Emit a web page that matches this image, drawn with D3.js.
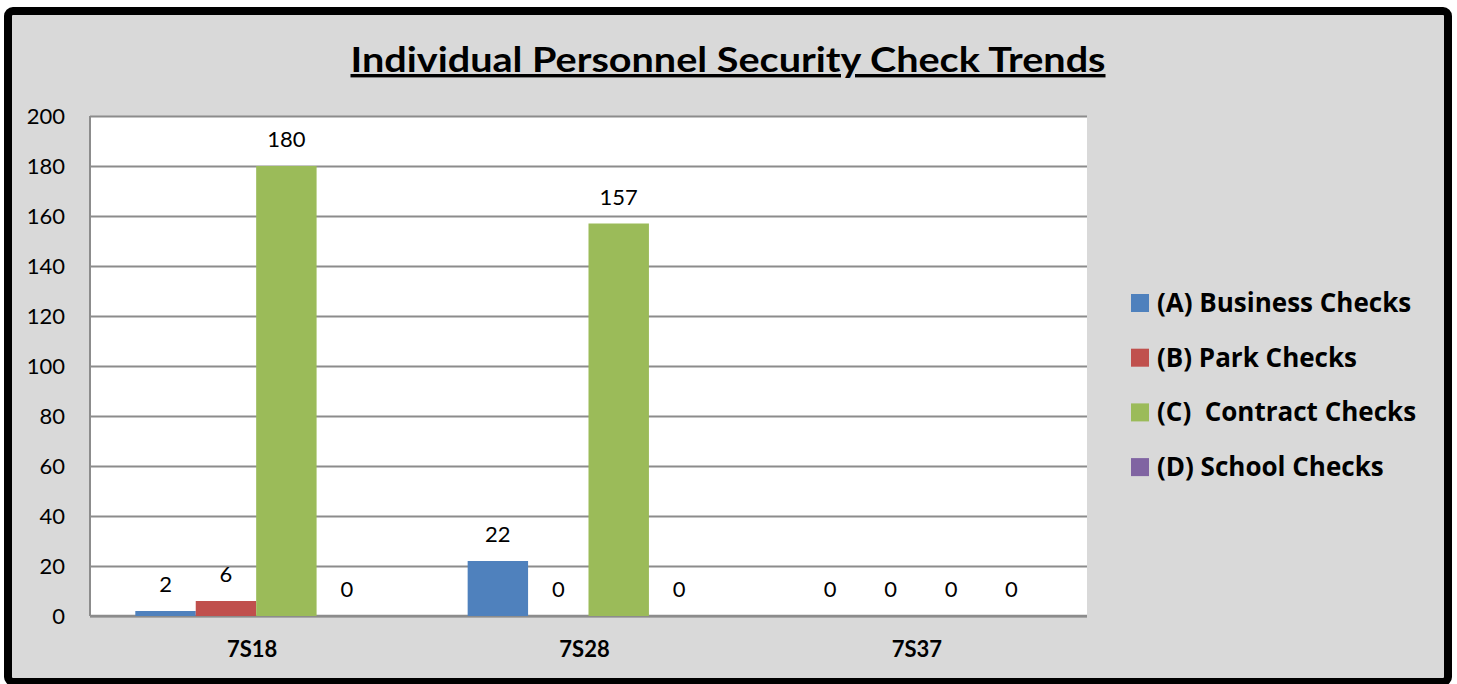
<!DOCTYPE html>
<html>
<head>
<meta charset="utf-8">
<script src="https://cdn.jsdelivr.net/npm/d3@7"></script>
<style>
  body { margin: 0; background: #fff; }
  svg { display: block; font-family: Lato, "Open Sans", sans-serif; }
</style>
</head>
<body>
<svg id="chart" width="1457" height="684"></svg>
<script>
// chart values
const categories = ['7S18', '7S28', '7S37'];
const seriesNames = ['(A) Business Checks', '(B) Park Checks', '(C)  Contract Checks', '(D) School Checks'];
const businessChecks = [2, 22, 0];
const parkChecks = [6, 0, 0];
const contractChecks = [180, 157, 0];
const schoolChecks = [0, 0, 0];
const colors = ['#4F81BD', '#C0504D', '#9BBB59', '#8064A2'];

const PLOT = { left: 90, right: 1087, top: 116, bottom: 616 };
const GRID = '#8c8c8c';
const LABEL_SIZE = 22;

const svg = d3.select('#chart');
const series = [businessChecks, parkChecks, contractChecks, schoolChecks];

// frame
svg.append('rect')
	.attr('x', 8).attr('y', 11)
	.attr('width', 1440).attr('height', 671)
	.attr('rx', 5)
	.attr('fill', '#D9D9D9')
	.attr('stroke', '#000')
	.attr('stroke-width', 8);

// title
svg.append('text')
	.attr('x', 728).attr('y', 72)
	.attr('text-anchor', 'middle')
	.attr('font-size', 34)
	.attr('font-weight', 'bold')
	.attr('textLength', 755)
	.attr('lengthAdjust', 'spacingAndGlyphs')
	.style('text-decoration', 'underline')
	.text('Individual Personnel Security Check Trends');

// scales
const x0 = d3.scaleBand()
	.domain(categories)
	.range([PLOT.left, PLOT.right]);
// 150% gap width: 4 bars + 1.5 bar of gap per group
const x1 = d3.scaleBand()
	.domain(d3.range(seriesNames.length))
	.range([0, x0.bandwidth()])
	.paddingInner(0)
	.paddingOuter(0.75);
const y = d3.scaleLinear().domain([0, 200]).range([PLOT.bottom, PLOT.top]);

// plot background
svg.append('rect')
	.attr('x', PLOT.left).attr('y', PLOT.top)
	.attr('width', PLOT.right - PLOT.left).attr('height', PLOT.bottom - PLOT.top)
	.attr('fill', '#fff');

// y axis with gridlines
const yAxis = svg.append('g')
	.attr('transform', `translate(${PLOT.left},0)`)
	.call(d3.axisLeft(y).ticks(10).tickSize(-(PLOT.right - PLOT.left)).tickPadding(25));
yAxis.select('.domain').remove();
yAxis.selectAll('.tick line').attr('stroke', GRID).attr('stroke-width', 2);
yAxis.selectAll('.tick text')
	.attr('font-family', 'Lato, "Open Sans", sans-serif')
	.attr('font-size', LABEL_SIZE)
	.attr('fill', '#000');

// axis lines
svg.append('line')
	.attr('x1', PLOT.left).attr('x2', PLOT.left)
	.attr('y1', PLOT.top).attr('y2', PLOT.bottom)
	.attr('stroke', GRID).attr('stroke-width', 2);
svg.append('line')
	.attr('x1', PLOT.left).attr('x2', PLOT.right)
	.attr('y1', PLOT.bottom).attr('y2', PLOT.bottom)
	.attr('stroke', GRID).attr('stroke-width', 2.5);

// bars
const rows = [];
categories.forEach((c, ci) => {
	series.forEach((s, si) => rows.push({ cat: c, idx: si, value: s[ci] }));
});

const groups = svg.append('g');
groups.selectAll('rect.bar')
	.data(rows)
	.enter()
	.append('rect')
	.attr('class', 'bar')
	.attr('x', d => x0(d.cat) + x1(d.idx))
	.attr('y', d => y(d.value))
	.attr('width', x1.bandwidth())
	.attr('height', d => y(0) - y(d.value))
	.attr('fill', d => colors[d.idx]);

groups.selectAll('text.val')
	.data(rows)
	.enter()
	.append('text')
	.attr('class', 'val')
	.attr('x', d => x0(d.cat) + x1(d.idx) + x1.bandwidth() / 2)
	.attr('y', d => y(d.value) - 19)
	.attr('text-anchor', 'middle')
	.attr('font-size', LABEL_SIZE)
	.text(d => d.value);

// category labels
svg.append('g')
	.selectAll('text')
	.data(categories)
	.enter()
	.append('text')
	.attr('x', d => x0(d) + x0.bandwidth() / 2 - 4)
	.attr('y', 657)
	.attr('text-anchor', 'middle')
	.attr('font-size', LABEL_SIZE)
	.attr('font-weight', 'bold')
	.text(d => d);

// legend
const legend = svg.append('g')
	.selectAll('g')
	.data(seriesNames)
	.enter()
	.append('g')
	.attr('transform', (d, i) => `translate(1131,${294 + i * 54.7})`);
legend.append('rect')
	.attr('width', 18).attr('height', 18)
	.attr('fill', (d, i) => colors[i]);
legend.append('text')
	.attr('x', 26).attr('y', 18)
	.attr('font-family', '"Open Sans", Lato, sans-serif')
	.attr('font-size', 26)
	.attr('font-weight', 'bold')
	.style('white-space', 'pre')
	.text(d => d);
</script>
</body>
</html>
